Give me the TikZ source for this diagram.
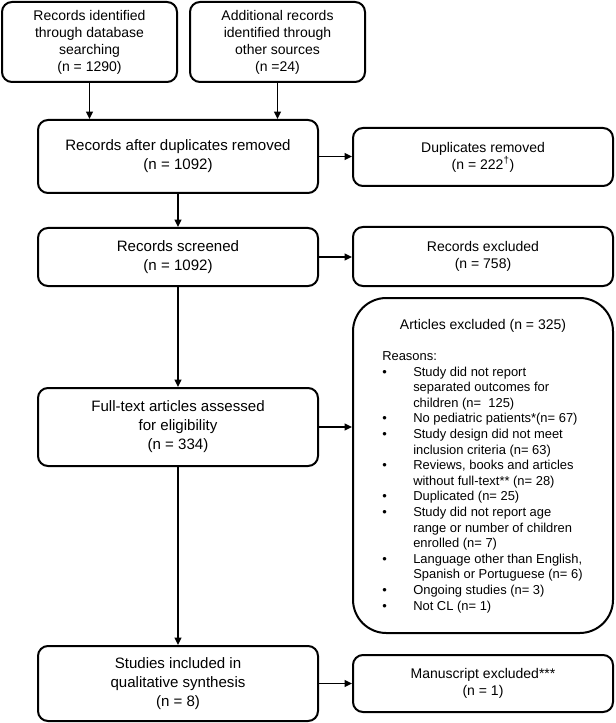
\documentclass[tikz,border=0pt]{standalone}
\usepackage{fontspec}
\setmainfont{Liberation Sans}
\usetikzlibrary{arrows.meta}
\newcommand{\pbul}{\makebox[23.25pt][l]{\textbullet}}
\newcommand{\pind}{\hspace*{23.25pt}}
\begin{document}
\begin{tikzpicture}[x=0.75pt,y=-0.75pt,
  box/.style={draw, line width=1.5pt, rounded corners=7.5pt, inner sep=0pt, align=center},
  big/.style={box, font=\fontsize{11.3}{14.25}\selectfont},
  small/.style={box, font=\fontsize{10.5}{12.75}\selectfont},
  arr/.style={line width=1.3pt, -{Triangle[length=5.5pt,width=5pt]}}]
\useasboundingbox (0,0) rectangle (615,723);

\node[small, minimum width=131.25pt, minimum height=60pt] (b1) at (89.5,42)
  {Records identified\\through database\\searching\\(n = 1290)};
\node[small, minimum width=131.25pt, minimum height=60pt] (b2) at (277.5,42)
  {Additional records\\identified through\\other sources\\(n =24)};
\node[big, minimum width=210pt, minimum height=54.75pt] (b3) at (178,156.5)
  {Records after duplicates removed\\(n = 1092)};
\node[small, minimum width=195pt, minimum height=43.5pt] (dup) at (483,157)
  {Duplicates removed\\(n = 222\textsuperscript{†})};
\node[big, minimum width=210pt, minimum height=43.5pt] (b4) at (178,257)
  {Records screened\\(n = 1092)};
\node[small, minimum width=195pt, minimum height=44.25pt] (rex) at (483,256.5)
  {Records excluded\\(n = 758)};
\node[box, rounded corners=25pt, minimum width=195pt, minimum height=251.25pt] (art) at (483,465.5) {};
\node[font=\fontsize{10.5}{12.75}\selectfont, inner sep=0pt] (arttitle) at (483,326)
  {Articles excluded (n = 325)};
\node[font=\fontsize{9.7}{11.7}\selectfont, inner sep=0pt, align=left, anchor=north west] (artlist) at (382,351.4)
  {Reasons:\\
   \pbul Study did not report\\
   \pind separated outcomes for\\
   \pind children (n=\ \ 125)\\
   \pbul No pediatric patients*(n= 67)\\
   \pbul Study design did not meet\\
   \pind inclusion criteria (n= 63)\\
   \pbul Reviews, books and articles\\
   \pind without full-text** (n= 28)\\
   \pbul Duplicated (n= 25)\\
   \pbul Study did not report age\\
   \pind range or number of children\\
   \pind enrolled (n= 7)\\
   \pbul Language other than English,\\
   \pind Spanish or Portuguese (n= 6)\\
   \pbul Ongoing studies (n= 3)\\
   \pbul Not CL (n= 1)};
\node[big, minimum width=210pt, minimum height=58.5pt] (ft) at (178,427)
  {Full-text articles assessed\\for eligibility\\(n = 334)};
\node[big, minimum width=210pt, minimum height=56.25pt] (st) at (178,683.5)
  {Studies included in\\qualitative synthesis\\(n = 8)};
\node[small, minimum width=195pt, minimum height=42.75pt] (ms) at (483,683.5)
  {Manuscript excluded***\\(n = 1)};

\draw[arr] (b1.south) -- (b1.south |- b3.north);
\draw[arr] (b2.south) -- (b2.south |- b3.north);
\draw[arr] (b3.south) -- (b4.north);
\draw[arr] (b3.east) -- (b3.east -| dup.west);
\draw[arr] (b4.east) -- (b4.east -| rex.west);
\draw[arr] (b4.south) -- (ft.north);
\draw[arr] (ft.east) -- (ft.east -| art.west);
\draw[arr] (ft.south) -- (st.north);
\draw[arr] (st.east) -- (st.east -| ms.west);
\end{tikzpicture}
\end{document}
